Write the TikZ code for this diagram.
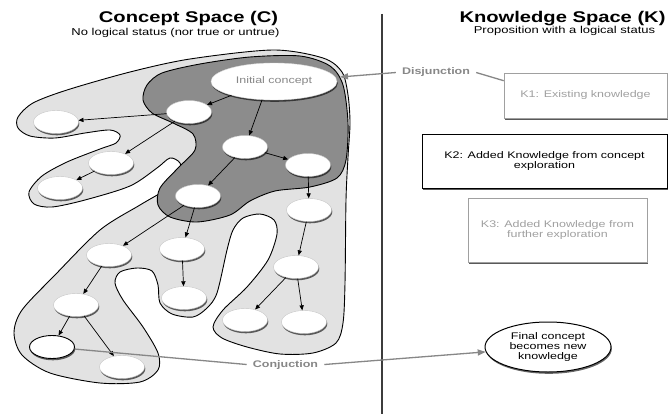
\documentclass[tikz,border=0pt]{standalone}
\usepackage{fontspec}
\setmainfont{Liberation Sans}[FakeStretch=1.3]
\usetikzlibrary{shadows,arrows.meta,shapes.geometric}
\definecolor{lightreg}{RGB}{226,226,226}
\definecolor{darkreg}{RGB}{140,140,140}
\definecolor{labgray}{RGB}{135,135,135}
\definecolor{boxgray}{RGB}{160,160,160}
\definecolor{divline}{RGB}{60,60,60}
\tikzset{
  sm/.style={font=\fontsize{9.6}{10.2}\selectfont},
  cnode/.style={ellipse, fill=white, draw=gray!45, line width=0.4pt,
    minimum width=45pt, minimum height=23pt, inner sep=0pt,
    drop shadow={shadow xshift=0.8pt, shadow yshift=-1.8pt, fill=black, opacity=0.6}},
  arr/.style={line width=0.7pt, -{Triangle[length=5pt,width=4.2pt]}},
  kbox/.style={rectangle, fill=white, sm, align=center, inner sep=2pt,
    drop shadow={shadow xshift=1.2pt, shadow yshift=-2.4pt, fill=black, opacity=0.65}},
  glabel/.style={font=\fontsize{9.6}{10.2}\selectfont\bfseries, text=labgray, inner sep=6pt},
  gline/.style={draw=labgray, line width=1.3pt},
  region/.style={line width=0.9pt, draw=black}
}
\begin{document}
\begin{tikzpicture}[x=1pt,y=-1pt]
\useasboundingbox (0,0) rectangle (668,414);
\fill[white] (0,0) rectangle (668,414);

% titles
\node[anchor=base, font=\fontsize{15.5}{16}\selectfont\bfseries] (tc) at (188.5,23) {Concept Space (C)};
\node[anchor=base, font=\fontsize{10}{11}\selectfont] (sc) at (175.5,35.5) {No logical status (nor true or untrue)};
\node[anchor=base, font=\fontsize{15.5}{16}\selectfont\bfseries] (tk) at (562.5,23) {Knowledge Space (K)};
\node[anchor=base, font=\fontsize{10}{11}\selectfont] (sk) at (564.5,33.5) {Proposition with a logical status};

% divider
\coordinate (dtop) at (382,14);
\coordinate (dbot) at (382,414);
\draw[divline, line width=1.3pt] (dtop) -- (dbot);

% outer light region
\draw[region, fill=lightreg] plot[smooth cycle, tension=0.5] coordinates {
(348,95) (342,72) (323,58) (273,50) (190,59) (130,72) (67,90) (33,103)
(18,117) (18,128) (30,136) (55,138) (85,133) (110,130) (120,135) (116,143)
(100,149) (67,162) (42,176) (29,192) (34,204) (52,207) (85,200) (130,186)
(157,168) (170,158) (180,163) (180,175) (165,190) (140,205) (100,230)
(55,275) (22,310) (14,333) (22,355) (50,373) (100,383) (140,382) (158,370)
(158,353) (143,327) (123,300) (115,283) (120,272) (137,268) (152,271)
(158,285) (160,303) (172,314) (193,317) (207,308) (217,293) (227,250)
(233,230) (243,218) (260,214) (274,220) (277,234) (268,260) (247,287)
(223,310) (213,327) (222,338) (247,347) (280,354) (313,353) (336,343)
(343,323) (345,283) (346,200) (348,157) (350,123)};

% dark region
\draw[region, fill=darkreg] plot[smooth cycle, tension=0.5] coordinates {
(343,85) (330,66) (300,56) (250,57) (200,64) (162,73) (147,85) (143,100)
(152,113) (173,123) (193,134) (195,150) (178,168) (160,188) (158,205)
(170,217) (197,222) (230,215) (250,201) (275,191) (310,187) (337,178)
(346,160) (348,123)};

% concept nodes
\node[cnode, minimum width=126pt, minimum height=37pt, draw=gray!30, sm, text=labgray] (init) at (274,81.5) {Initial concept};
\node[cnode] (c1) at (189,112) {};
\node[cnode] (c2) at (56,122) {};
\node[cnode] (c3) at (245,147) {};
\node[cnode] (c4) at (308,165) {};
\node[cnode] (c5) at (111,163) {};
\node[cnode] (c6) at (60,188) {};
\node[cnode] (c7) at (198,196) {};
\node[cnode] (c8) at (309,210) {};
\node[cnode] (c9) at (109,255) {};
\node[cnode] (c10) at (182,249) {};
\node[cnode] (c11) at (296,267) {};
\node[cnode] (c12) at (184,298) {};
\node[cnode] (c13) at (76,305) {};
\node[cnode] (c14) at (245,320) {};
\node[cnode] (c15) at (304,322) {};
\node[cnode, draw=black, line width=0.9pt] (c16) at (52,347) {};
\node[cnode] (c17) at (122,367) {};

% concept arrows
\draw[arr] (init.198) -- (c1);
\draw[arr] (init.237) -- (c3);
\draw[arr] (c1) -- (c2);
\draw[arr] (c1) -- (c5);
\draw[arr] (c5) -- (c6);
\draw[arr] (c3) -- (c4);
\draw[arr] (c3) -- (c7);
\draw[arr] (c4) -- (c8);
\draw[arr] (c7) -- (c9);
\draw[arr] (c7) -- (c10);
\draw[arr] (c10) -- (c12);
\draw[arr] (c8) -- (c11);
\draw[arr] (c9) -- (c13);
\draw[arr] (c11) -- (c14);
\draw[arr] (c11) -- (c15);
\draw[arr] (c13) -- (c16);
\draw[arr] (c13) -- (c17);

% knowledge boxes
\node[kbox, draw=boxgray, text=boxgray, line width=0.6pt, minimum width=163pt, minimum height=45pt] (k1) at (585.5,95.5) {K1: Existing knowledge};
\node[kbox, draw=black, line width=0.8pt, minimum width=245pt, minimum height=54pt] (k2) at (544.5,161) {K2: Added Knowledge from concept\\exploration};
\node[kbox, draw=boxgray, text=boxgray, line width=0.6pt, minimum width=179pt, minimum height=64pt] (k3) at (557.5,230) {K3: Added Knowledge from\\further exploration};

% final concept
\node[ellipse, fill=white, draw=black, line width=1pt, minimum width=126pt, minimum height=50pt, inner sep=0pt, sm, align=center,
  drop shadow={shadow xshift=0.8pt, shadow yshift=-1.8pt, fill=black, opacity=0.6}] (final) at (548,347) {Final concept\\becomes new\\knowledge};

% disjunction
\node[glabel, anchor=base] (dis) at (436,75) {Disjunction};
\coordinate (djtip) at (340,77);
\draw[gline, -{Triangle[length=8pt,width=6pt]}] (dis.west) -- (djtip);
\draw[gline] (dis.east) -- ([yshift=-8pt]k1.north west);

% conjunction
\node[glabel, anchor=base] (conj) at (285.5,367) {Conjuction};
\draw[gline] (c16) -- (conj.west);
\draw[gline, -{Triangle[length=8pt,width=6pt]}] (conj.east) -- (final);
\end{tikzpicture}
\end{document}
